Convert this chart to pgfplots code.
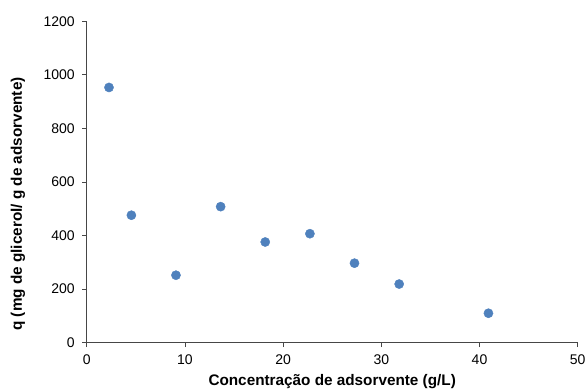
\documentclass[border=0pt]{standalone}
\usepackage{pgfplots}
\pgfplotsset{compat=1.18}
\usepackage{fontspec}
\setmainfont{Liberation Sans}
\definecolor{ptblue}{RGB}{79,129,189}
\definecolor{axgray}{RGB}{70,70,70}
\begin{document}
\begin{tikzpicture}
\begin{axis}[
  scale only axis,
  width=491pt, height=321.4pt,
  xmin=0, xmax=50, ymin=0, ymax=1200,
  xtick={0,10,...,50}, ytick={0,200,...,1200},
  axis x line*=bottom, axis y line*=left,
  tick align=outside, major tick length=4.5pt,
  tick style={axgray, line width=0.8pt},
  axis line style={axgray, line width=0.8pt},
  ticklabel style={font=\fontsize{14}{16}\selectfont},
  xticklabel style={yshift=-3.5pt},
  yticklabel style={xshift=-4pt},
  /pgf/number format/assume math mode=true,
  /pgf/number format/1000 sep={},
  label style={font=\bfseries\fontsize{15.3}{18}\selectfont},
  xlabel={Concentração de adsorvente (g/L)},
  ylabel={q (mg de glicerol/ g de adsorvente)},
  xlabel style={at={(axis description cs:0.5,0)}, anchor=base, yshift=-42.6pt},
  ylabel style={at={(axis description cs:-0.14,0.4316)}, anchor=center, rotate=0},
  clip=false,
]
\addplot[only marks, mark=*, mark size=4.6pt, color=ptblue] coordinates {
  (2.27,953) (4.55,476) (9.09,252) (13.64,508) (18.18,376)
  (22.73,407) (27.27,297) (31.82,219) (40.91,110)
};
\end{axis}
\pgfresetboundingbox
\path[use as bounding box] ([xshift=-86.7pt,yshift=-46.3pt]current axis.south west) rectangle ([xshift=7.3pt,yshift=21.3pt]current axis.north east);
\end{tikzpicture}
\end{document}
